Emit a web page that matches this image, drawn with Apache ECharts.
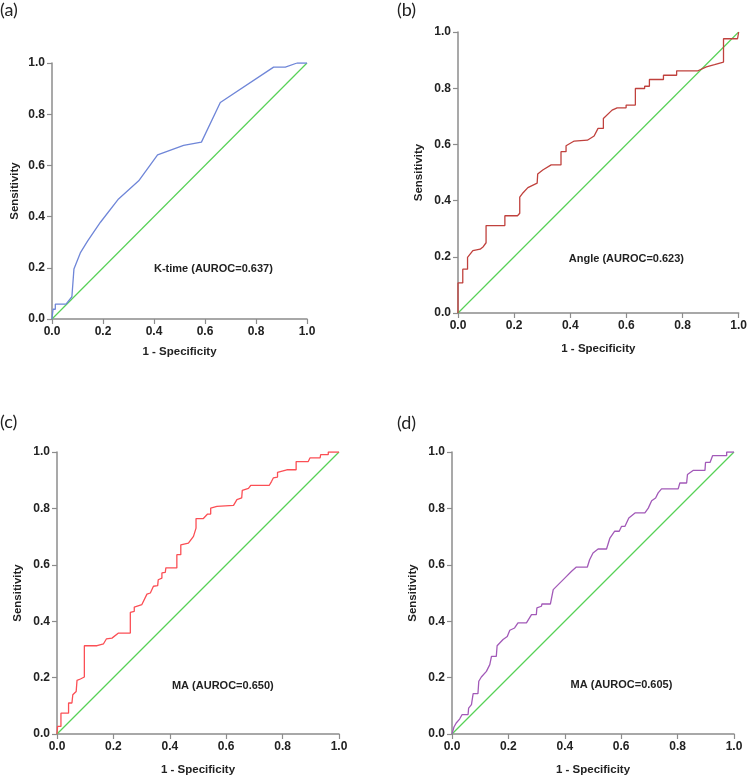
<!DOCTYPE html>
<html>
<head>
<meta charset="utf-8">
<title>ROC curves</title>
<script src="https://cdn.jsdelivr.net/npm/echarts@6/dist/echarts.min.js"></script>
<style>
  html, body { margin: 0; padding: 0; background: #fff; }
  #chart { width: 750px; height: 779px; }
</style>
</head>
<body>
<div id="chart"></div>
<script>
// --- 数据: ROC 曲线点 [1-特异度, 灵敏度] ---
const axisTicks = [0, 0.2, 0.4, 0.6, 0.8, 1.0];
const refDiagonal = [[0, 0], [1, 1]];

const ktimeRoc = [
    [0, 0], [0.004, 0], [0.004, 0.038], [0.013, 0.038], [0.013, 0.058], [0.055, 0.058],
    [0.078, 0.087], [0.086, 0.195], [0.111, 0.258], [0.14, 0.305], [0.19, 0.378],
    [0.261, 0.469], [0.34, 0.54], [0.414, 0.641], [0.516, 0.678], [0.586, 0.691],
    [0.66, 0.846], [0.869, 0.984], [0.915, 0.984], [0.961, 1.0], [1, 1]
];

const angleRoc = [
    [0, 0], [0, 0.107], [0.017, 0.107], [0.017, 0.156], [0.034, 0.156], [0.034, 0.198],
    [0.039, 0.2], [0.053, 0.222], [0.079, 0.227], [0.09, 0.236], [0.1, 0.25],
    [0.1, 0.311], [0.167, 0.311], [0.167, 0.346], [0.212, 0.346], [0.22, 0.355],
    [0.22, 0.412], [0.232, 0.428], [0.249, 0.446], [0.282, 0.462], [0.284, 0.495],
    [0.302, 0.509], [0.332, 0.527], [0.367, 0.527], [0.367, 0.574], [0.385, 0.574],
    [0.385, 0.595], [0.414, 0.612], [0.461, 0.615], [0.485, 0.63], [0.499, 0.657],
    [0.518, 0.657], [0.518, 0.692], [0.549, 0.722], [0.567, 0.73], [0.599, 0.73],
    [0.599, 0.74], [0.632, 0.74], [0.632, 0.799], [0.665, 0.799], [0.665, 0.807],
    [0.682, 0.807], [0.682, 0.831], [0.732, 0.831], [0.732, 0.846], [0.779, 0.846],
    [0.779, 0.862], [0.855, 0.862], [0.885, 0.876], [0.914, 0.884], [0.946, 0.893],
    [0.946, 0.976], [0.996, 0.976], [1, 1]
];

const maRocC = [
    [0, 0], [0.002, 0], [0.002, 0.027], [0.014, 0.027], [0.014, 0.074], [0.041, 0.074],
    [0.041, 0.11], [0.053, 0.11], [0.056, 0.139], [0.068, 0.151], [0.071, 0.19],
    [0.083, 0.195], [0.083, 0.202], [0.097, 0.202], [0.097, 0.313], [0.142, 0.313],
    [0.165, 0.32], [0.175, 0.337], [0.195, 0.34], [0.218, 0.358], [0.26, 0.358],
    [0.26, 0.431], [0.274, 0.435], [0.274, 0.45], [0.301, 0.459], [0.319, 0.496],
    [0.331, 0.5], [0.342, 0.524], [0.357, 0.526], [0.359, 0.547], [0.372, 0.553],
    [0.372, 0.571], [0.384, 0.573], [0.386, 0.589], [0.425, 0.589], [0.425, 0.636],
    [0.439, 0.636], [0.439, 0.671], [0.466, 0.677], [0.484, 0.701], [0.493, 0.73],
    [0.493, 0.764], [0.519, 0.764], [0.534, 0.78], [0.545, 0.78], [0.545, 0.801],
    [0.567, 0.807], [0.626, 0.811], [0.638, 0.831], [0.655, 0.837], [0.657, 0.864],
    [0.679, 0.871], [0.687, 0.882], [0.753, 0.882], [0.761, 0.896], [0.767, 0.908],
    [0.782, 0.911], [0.782, 0.928], [0.815, 0.937], [0.848, 0.937], [0.848, 0.966],
    [0.891, 0.966], [0.897, 0.979], [0.933, 0.979], [0.935, 0.991], [0.962, 0.991],
    [0.962, 1], [1, 1]
];

const maRocD = [
    [0, 0], [0.007, 0.025], [0.015, 0.039], [0.027, 0.053], [0.036, 0.069], [0.057, 0.069],
    [0.059, 0.092], [0.069, 0.104], [0.075, 0.143], [0.092, 0.143], [0.095, 0.187],
    [0.104, 0.202], [0.122, 0.222], [0.134, 0.246], [0.14, 0.275], [0.157, 0.275],
    [0.16, 0.313], [0.181, 0.335], [0.196, 0.346], [0.205, 0.368], [0.222, 0.376],
    [0.234, 0.394], [0.264, 0.394], [0.282, 0.423], [0.299, 0.423], [0.301, 0.447],
    [0.317, 0.453], [0.319, 0.461], [0.349, 0.461], [0.359, 0.512], [0.382, 0.535],
    [0.406, 0.559], [0.424, 0.577], [0.441, 0.592], [0.48, 0.592], [0.488, 0.618],
    [0.5, 0.642], [0.518, 0.656], [0.548, 0.656], [0.56, 0.695], [0.577, 0.719],
    [0.593, 0.719], [0.601, 0.736], [0.613, 0.736], [0.627, 0.766], [0.649, 0.784],
    [0.684, 0.784], [0.696, 0.801], [0.708, 0.827], [0.722, 0.837], [0.731, 0.855],
    [0.743, 0.869], [0.802, 0.869], [0.808, 0.89], [0.832, 0.89], [0.835, 0.92],
    [0.856, 0.935], [0.897, 0.935], [0.899, 0.963], [0.915, 0.963], [0.924, 0.987],
    [0.974, 0.987], [0.974, 1], [1, 1]
];

// --- 四个子图的布局与样式 ---
const panels = [
    { tag: '(a)', data: ktimeRoc, color: '#6f86d8', text: 'K-time (AUROC=0.637)', at: [0.633, 0.196],
      grid: { left: 52, top: 63, width: 255, height: 256 }, tagPos: [0, 1], xGap: 27, yGap: 31 },
    { tag: '(b)', data: angleRoc, color: '#c0413d', text: 'Angle (AUROC=0.623)', at: [0.60, 0.193],
      grid: { left: 458, top: 32, width: 283, height: 281 }, tagPos: [397, 1], xGap: 30, yGap: 33 },
    { tag: '(c)', data: maRocC, color: '#fb4f55', text: 'MA (AUROC=0.650)', at: [0.588, 0.172],
      grid: { left: 57, top: 452, width: 282, height: 282 }, tagPos: [0, 413], xGap: 30, yGap: 33 },
    { tag: '(d)', data: maRocD, color: '#a25ab8', text: 'MA (AUROC=0.605)', at: [0.601, 0.175],
      grid: { left: 452, top: 452, width: 282, height: 282 }, tagPos: [397, 414], xGap: 30, yGap: 33 }
];

const axisGray = '#8c8c8c';
const textFont = '"Liberation Sans", Arial, sans-serif';

function makeAxis(idx, isX, p) {
    return {
        type: 'value',
        gridIndex: idx,
        min: axisTicks[0],
        max: axisTicks[axisTicks.length - 1],
        interval: 0.2,
        name: isX ? '1 - Specificity' : 'Sensitivity',
        nameLocation: 'middle',
        nameGap: isX ? p.xGap : p.yGap,
        nameTextStyle: { fontFamily: textFont, fontWeight: 'bold', fontSize: 11.5, color: '#222' },
        axisLine: { show: true, onZero: false, lineStyle: { color: axisGray, width: 1.5 } },
        axisTick: { show: true, length: 5, lineStyle: { color: axisGray, width: 1.2 } },
        axisLabel: {
            fontFamily: textFont, fontWeight: 'bold', fontSize: 12, color: '#222', margin: 7,
            formatter: v => v.toFixed(1)
        },
        splitLine: { show: false }
    };
}

const chart = echarts.init(document.getElementById('chart'));

const option = {
    animation: false,
    backgroundColor: '#fff',
    grid: panels.map(p => Object.assign({ containLabel: false }, p.grid)),
    xAxis: panels.map((p, i) => makeAxis(i, true, p)),
    yAxis: panels.map((p, i) => makeAxis(i, false, p)),
    graphic: panels.map(p => ({
        type: 'text',
        left: p.tagPos[0],
        top: p.tagPos[1],
        style: { text: p.tag, fontFamily: 'Lato, "Open Sans", sans-serif', fontSize: 18, fill: '#222' }
    })),
    series: []
};

panels.forEach((p, i) => {
    // 参考对角线
    option.series.push({
        type: 'line',
        xAxisIndex: i,
        yAxisIndex: i,
        data: refDiagonal,
        showSymbol: false,
        silent: true,
        lineStyle: { color: '#57d157', width: 1.2 }
    });
    // ROC 曲线
    option.series.push({
        type: 'line',
        xAxisIndex: i,
        yAxisIndex: i,
        data: p.data,
        showSymbol: false,
        lineStyle: { color: p.color, width: 1.3 },
        z: 3,
        markPoint: {
            symbol: 'rect',
            symbolSize: 1,
            itemStyle: { color: 'rgba(0,0,0,0)' },
            label: {
                show: true,
                position: 'inside',
                formatter: p.text,
                fontFamily: textFont,
                fontWeight: 'bold',
                fontSize: 11,
                color: '#222'
            },
            data: [{ coord: p.at }]
        }
    });
});

chart.setOption(option);
window.addEventListener('resize', () => chart.resize());
</script>
</body>
</html>
